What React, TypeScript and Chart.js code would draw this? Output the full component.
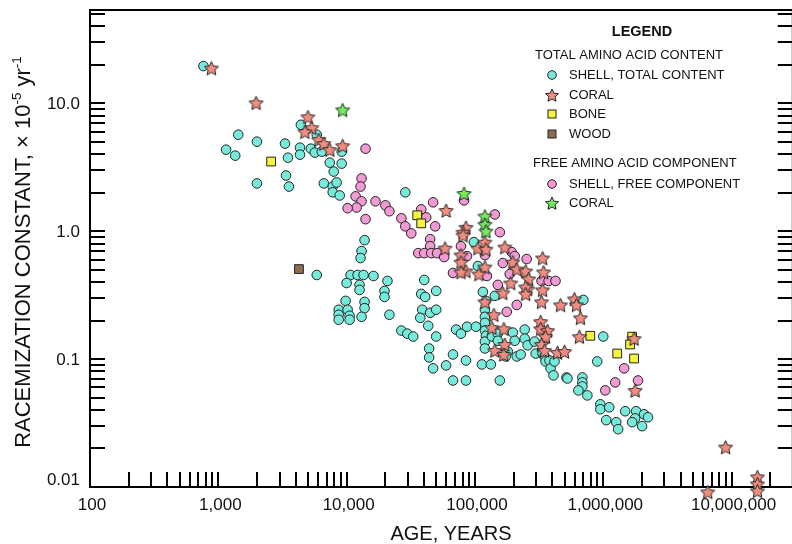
import React, { useEffect, useRef } from 'react';
import { Chart, registerables } from 'chart.js';

Chart.register(...registerables);

const FONT = '"Liberation Sans", Arial, Helvetica, sans-serif';

const X_MIN = 100;
const X_MAX = 3e7;
const Y_MIN = 0.01;
const Y_MAX = 53.5;

const xLabelValues = [100, 1000, 10000, 100000, 1000000, 10000000];
const xLabels = ['100', '1,000', '10,000', '100,000', '1,000,000', '10,000,000'];
const yLabelValues = [10, 1, 0.1, 0.01];
const yLabels = ['10.0', '1.0', '0.1', '0.01'];

const xTitle = 'AGE, YEARS';
const yTitleMain = 'RACEMIZATION CONSTANT, \u00d7 10';

// [age in years, racemization constant x 1e-5 / yr]
const shellTotal: [number, number][] = [
  [766, 19.5], [1150, 4.33], [1355, 3.89], [1430, 5.67], [2000, 5.0], [2000, 2.36], [3310, 4.83],
  [3370, 2.72], [3490, 3.75], [3550, 2.23], [4330, 4.49], [4330, 3.96], [4400, 6.78], [5260, 4.41],
  [5650, 4.11], [5850, 5.67], [6400, 4.18], [7390, 3.43], [7930, 2.92], [6640, 2.36], [7790, 2.23],
  [8360, 2.4], [7790, 2.01], [8830, 1.9], [9150, 4.18], [9150, 3.37], [28660, 2.01], [13800, 0.85],
  [13070, 0.698], [12840, 0.616], [5850, 0.454], [10740, 0.454], [12170, 0.454], [13550, 0.454],
  [16190, 0.446], [10000, 0.393], [12610, 0.38], [12610, 0.347], [20800, 0.408], [19730, 0.341],
  [19730, 0.306], [9820, 0.285], [8670, 0.243], [8670, 0.222], [8670, 0.203], [10180, 0.243],
  [10550, 0.218], [10550, 0.203], [13800, 0.28], [13800, 0.25], [13070, 0.214], [21550, 0.222],
  [26700, 0.167], [29720, 0.158], [33030, 0.15], [40270, 0.415], [38130, 0.323], [40960, 0.306],
  [49890, 0.341], [38830, 0.243], [44770, 0.23], [49890, 0.243], [37480, 0.21], [43250, 0.182],
  [49890, 0.15], [43950, 0.121], [43950, 0.103], [47210, 0.0846], [59570, 0.0892], [67450, 0.1086],
  [85110, 0.0975], [67450, 0.068], [85110, 0.068], [156300, 0.068], [71290, 0.17], [77800, 0.158],
  [86700, 0.179], [101800, 0.179], [98200, 0.82], [105400, 0.533], [115300, 0.335], [121700, 0.285],
  [119600, 0.243], [119600, 0.214], [119600, 0.192], [119600, 0.167], [121700, 0.152], [119600, 0.137],
  [119600, 0.121], [113300, 0.0908], [133000, 0.0908], [142900, 0.312], [135500, 0.15], [150700, 0.158],
  [150700, 0.139], [197200, 0.161], [204200, 0.139], [180300, 0.1145], [173800, 0.1048], [211800, 0.1048],
  [227300, 0.1086], [244200, 0.17], [244200, 0.1445], [257500, 0.128], [291700, 0.137], [297200, 0.1105],
  [336500, 0.1105], [349100, 0.1048], [354800, 0.0958], [381100, 0.0975], [388200, 0.0846],
  [416900, 0.0958], [409300, 0.0745], [516400, 0.0718], [699800, 0.29], [1000000, 0.15], [897500, 0.0958],
  [526000, 0.0705], [687100, 0.0718], [687100, 0.0657], [687100, 0.0611], [640000, 0.0569], [751600, 0.052],
  [948400, 0.0443], [948400, 0.0405], [1114000, 0.042], [1482000, 0.0391], [1803000, 0.0391],
  [2080000, 0.037], [2233000, 0.0351], [1770000, 0.0344], [1679000, 0.0321], [2005000, 0.0299],
  [1054000, 0.0333], [1262000, 0.0321], [1306000, 0.0283],
];

const coralTotal: [number, number][] = [
  [883, 18.8], [1970, 10.07], [4990, 7.82], [5350, 6.43], [4730, 5.98], [6070, 5.19], [6640, 4.83],
  [7390, 4.33], [9310, 4.65], [59570, 1.45], [85110, 1.07], [80730, 0.98], [80730, 0.93], [58480, 0.736],
  [77800, 0.65], [77800, 0.573], [105400, 0.736], [119600, 0.82], [121700, 0.723], [119600, 0.524],
  [85110, 0.488], [77800, 0.479], [107400, 0.462], [171000, 0.75], [197200, 0.573], [211800, 0.505],
  [248500, 0.488], [336500, 0.616], [342700, 0.479], [262300, 0.423], [336500, 0.347], [257500, 0.353],
  [330400, 0.28], [464500, 0.265], [595700, 0.295], [618000, 0.265], [663700, 0.21], [325100, 0.196],
  [325100, 0.1725], [368100, 0.1667], [354800, 0.1496], [651600, 0.1496], [1738000, 0.1445],
  [1770000, 0.0569], [190100, 0.393], [248500, 0.366], [248500, 0.323], [164800, 0.329], [119600, 0.28],
  [140400, 0.222], [135500, 0.176], [167900, 0.1725], [171000, 0.13], [142900, 0.1166], [167900, 0.1086],
  [330400, 0.13], [349100, 0.1166], [439500, 0.1125], [498900, 0.1145], [8977000, 0.0205],
  [6516000, 0.00916], [15920000, 0.012], [15920000, 0.01057], [15920000, 0.00933],
];

const bone: [number, number][] = [
  [2580, 3.5], [35490, 1.33], [38130, 1.15], [792500, 0.152], [1285000, 0.1105], [1738000, 0.101],
  [1679000, 0.1496], [1618000, 0.13],
];

const wood: [number, number][] = [[4250, 0.505]];

const shellFree: [number, number][] = [
  [14040, 4.41], [13070, 2.58], [12840, 2.23], [11750, 1.87], [13070, 1.71], [11960, 1.53], [10180, 1.51],
  [14040, 1.24], [16790, 1.71], [20050, 1.59], [21550, 1.43], [26700, 1.26], [28660, 1.09], [31900, 0.96],
  [38130, 1.48], [41690, 1.28], [48980, 1.09], [47210, 1.68], [44770, 0.865], [44770, 0.763], [36140, 0.673],
  [40270, 0.673], [45600, 0.673], [50700, 0.673], [57540, 0.627], [82200, 1.74], [142900, 1.35],
  [156300, 0.98], [77800, 0.763], [86700, 0.638], [119600, 0.65], [193600, 0.685], [204200, 0.638],
  [164800, 0.563], [253000, 0.605], [67450, 0.471], [123900, 0.446], [186700, 0.462], [150700, 0.38],
  [211800, 0.265], [177000, 0.234], [330400, 0.408], [374900, 0.408], [424600, 0.408], [1455000, 0.0846],
  [1239000, 0.0657], [1037000, 0.0569], [1866000, 0.068],
];

const coralFree: [number, number][] = [
  [9310, 8.87], [82200, 1.97], [119600, 1.31], [119600, 1.13], [121700, 1.0],
];

const COLORS = {
  shellTotal: '#76EBDB',
  coralTotal: '#F28C80',
  bone: '#F4F43C',
  wood: '#8C6D52',
  shellFree: '#F29AD3',
  coralFree: '#70EC5C',
  edge: '#222222',
};

function starPath(ctx: CanvasRenderingContext2D, cx: number, cy: number, R: number, r: number) {
  ctx.beginPath();
  for (let i = 0; i < 10; i++) {
    const ang = -Math.PI / 2 + (i * Math.PI) / 5;
    const rad = i % 2 === 0 ? R : r;
    const px = cx + rad * Math.cos(ang);
    const py = cy + rad * Math.sin(ang);
    if (i === 0) ctx.moveTo(px, py);
    else ctx.lineTo(px, py);
  }
  ctx.closePath();
}

function makeStar(fill: string, R: number, r: number): HTMLCanvasElement {
  const size = Math.ceil(R * 2 + 4);
  const c = document.createElement('canvas');
  c.width = size;
  c.height = size;
  const g = c.getContext('2d')!;
  starPath(g, size / 2, size / 2 + 0.8, R, r);
  g.fillStyle = fill;
  g.fill();
  g.lineWidth = 1;
  g.strokeStyle = COLORS.edge;
  g.stroke();
  return c;
}

function toPts(arr: [number, number][]) {
  return arr.map(([x, y]) => ({ x, y }));
}

function buildTicks(min: number, max: number): number[] {
  const out: number[] = [];
  for (let e = Math.floor(Math.log10(min)); e <= Math.ceil(Math.log10(max)); e++) {
    for (let m = 1; m <= 9; m++) {
      const v = m * Math.pow(10, e);
      if (v > min * 1.0001 && v < max * 0.9999) out.push(v);
    }
  }
  return out;
}

const framePlugin = {
  id: 'frameAndText',
  beforeDatasetsDraw(chart: any) {
    const { ctx, chartArea: a } = chart;
    const xs = chart.scales.x;
    const ys = chart.scales.y;
    ctx.save();
    ctx.strokeStyle = '#000';
    ctx.lineWidth = 2;
    ctx.lineCap = 'butt';
    ctx.strokeRect(a.left, a.top, a.right - a.left, a.bottom - a.top);

    ctx.lineWidth = 2;
    const TL = 15;
    for (const v of buildTicks(Y_MIN, Y_MAX)) {
      const p = Math.round(ys.getPixelForValue(v));
      ctx.beginPath();
      ctx.moveTo(a.left, p);
      ctx.lineTo(a.left + TL, p);
      ctx.moveTo(a.right, p);
      ctx.lineTo(a.right - TL, p);
      ctx.stroke();
    }
    for (const v of buildTicks(X_MIN, X_MAX)) {
      const p = Math.round(xs.getPixelForValue(v));
      ctx.beginPath();
      ctx.moveTo(p, a.bottom);
      ctx.lineTo(p, a.bottom - TL);
      ctx.stroke();
    }

    ctx.fillStyle = '#111';
    ctx.font = `17px ${FONT}`;
    ctx.textBaseline = 'middle';
    ctx.textAlign = 'center';
    xLabelValues.forEach((v, i) => {
      ctx.fillText(xLabels[i], xs.getPixelForValue(v) + 2, a.bottom + 18);
    });
    ctx.textAlign = 'right';
    yLabelValues.forEach((v, i) => {
      let p = ys.getPixelForValue(v) + 1;
      if (i === yLabelValues.length - 1) p -= 8;
      ctx.fillText(yLabels[i], 80, p);
    });

    // axis titles
    ctx.font = `20px ${FONT}`;
    ctx.textAlign = 'center';
    ctx.fillText(xTitle, 451, a.bottom + 47);

    ctx.save();
    ctx.translate(22, 252);
    ctx.rotate(-Math.PI / 2);
    const mainF = `22px ${FONT}`;
    const supF = `13.5px ${FONT}`;
    ctx.font = mainF;
    const w1 = ctx.measureText(yTitleMain).width;
    const w3 = ctx.measureText(' yr').width;
    ctx.font = supF;
    const w2 = ctx.measureText('-5').width;
    const w4 = ctx.measureText('-1').width;
    const total = w1 + w2 + w3 + w4;
    let cx = -total / 2;
    ctx.textAlign = 'left';
    ctx.textBaseline = 'alphabetic';
    ctx.font = mainF;
    ctx.fillText(yTitleMain, cx, 8);
    cx += w1;
    ctx.font = supF;
    ctx.fillText('-5', cx, -1.5);
    cx += w2;
    ctx.font = mainF;
    ctx.fillText(' yr', cx, 8);
    cx += w3;
    ctx.font = supF;
    ctx.fillText('-1', cx, -1.5);
    ctx.restore();

    // legend
    ctx.textBaseline = 'middle';
    ctx.fillStyle = '#111';
    ctx.font = `bold 14.5px ${FONT}`;
    ctx.textAlign = 'center';
    ctx.fillText('LEGEND', 642, 32);
    ctx.textAlign = 'left';
    ctx.font = `13px ${FONT}`;
    ctx.fillText('TOTAL AMINO ACID CONTENT', 535, 55);
    ctx.fillText('FREE AMINO ACID COMPONENT', 533, 163);
    const items: [string, string, number][] = [
      ['circle', COLORS.shellTotal, 75],
      ['star', COLORS.coralTotal, 95],
      ['rect', COLORS.bone, 114],
      ['rect', COLORS.wood, 134],
      ['circle', COLORS.shellFree, 184],
      ['star', COLORS.coralFree, 203],
    ];
    const texts = ['SHELL, TOTAL CONTENT', 'CORAL', 'BONE', 'WOOD', 'SHELL, FREE COMPONENT', 'CORAL'];
    items.forEach(([shape, col, yy], i) => {
      const mx = 552;
      ctx.fillStyle = col;
      ctx.strokeStyle = COLORS.edge;
      ctx.lineWidth = 1;
      if (shape === 'circle') {
        ctx.beginPath();
        ctx.arc(mx, yy, 4.3, 0, Math.PI * 2);
        ctx.fill();
        ctx.stroke();
      } else if (shape === 'rect') {
        ctx.fillRect(mx - 4, yy - 4, 8, 8);
        ctx.strokeRect(mx - 4, yy - 4, 8, 8);
      } else {
        starPath(ctx, mx, yy + 0.8, 6.8, 3.2);
        ctx.fill();
        ctx.stroke();
      }
      ctx.fillStyle = '#111';
      ctx.fillText(texts[i], 569, yy);
    });
    ctx.restore();
  },
};

export default function App() {
  const ref = useRef<HTMLCanvasElement | null>(null);
  useEffect(() => {
    const canvas = ref.current;
    if (!canvas) return;
    const starCoral = makeStar(COLORS.coralTotal, 7.4, 3.5);
    const starGreen = makeStar(COLORS.coralFree, 7.4, 3.5);
    const base = {
      borderColor: COLORS.edge,
      borderWidth: 1,
      clip: false as any,
    };
    const chart = new Chart(canvas, {
      type: 'scatter',
      data: {
        datasets: [
          { ...base, label: 'SHELL, TOTAL CONTENT', data: toPts(shellTotal), backgroundColor: COLORS.shellTotal, pointStyle: 'circle', pointRadius: 4.8, order: 6 },
          { ...base, label: 'SHELL, FREE COMPONENT', data: toPts(shellFree), backgroundColor: COLORS.shellFree, pointStyle: 'circle', pointRadius: 4.8, order: 5 },
          { ...base, label: 'WOOD', data: toPts(wood), backgroundColor: COLORS.wood, pointStyle: 'rect', pointRadius: 6.2, order: 4 },
          { ...base, label: 'BONE', data: toPts(bone), backgroundColor: COLORS.bone, pointStyle: 'rect', pointRadius: 6.2, order: 3 },
          { ...base, label: 'CORAL (TOTAL)', data: toPts(coralTotal), backgroundColor: COLORS.coralTotal, pointStyle: starCoral as any, order: 2 },
          { ...base, label: 'CORAL (FREE)', data: toPts(coralFree), backgroundColor: COLORS.coralFree, pointStyle: starGreen as any, order: 1 },
        ],
      },
      options: {
        responsive: false,
        animation: false,
        devicePixelRatio: 1,
        layout: { padding: { left: 90, right: 3, top: 10, bottom: 57 } },
        scales: {
          x: { type: 'logarithmic', min: X_MIN, max: X_MAX, display: false },
          y: { type: 'logarithmic', min: Y_MIN, max: Y_MAX, display: false },
        },
        plugins: {
          legend: { display: false },
          tooltip: { enabled: false },
        },
        events: [],
      },
      plugins: [framePlugin],
    });
    return () => chart.destroy();
  }, []);
  return (
    <div style={{ position: 'fixed', left: 0, top: 0, width: 792, height: 544, overflow: 'hidden', background: '#fff' }}>
      <canvas ref={ref} width={800} height={544} style={{ width: 800, height: 544, display: 'block' }} />
    </div>
  );
}
